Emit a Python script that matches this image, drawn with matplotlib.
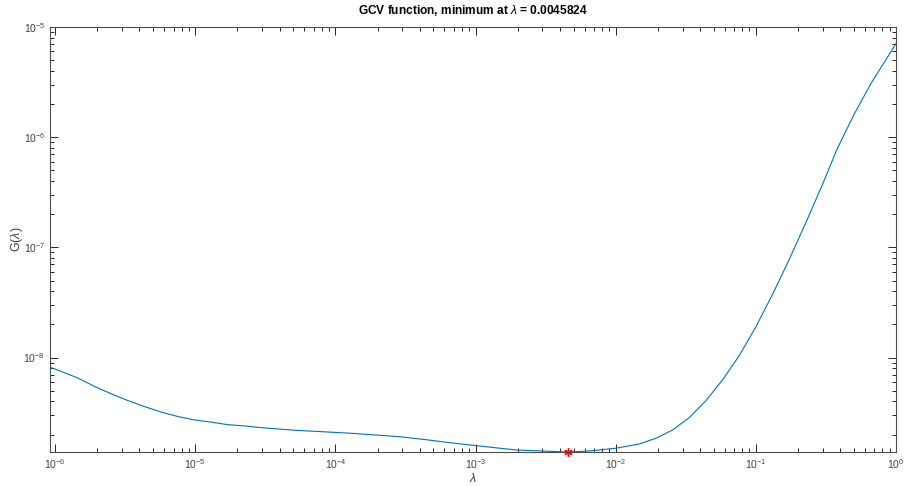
import numpy as np
import matplotlib
matplotlib.use("Agg")
import matplotlib.pyplot as plt
from matplotlib.ticker import FixedLocator, NullFormatter

# ======================
# DATA
# ======================
lam = [9.21e-7, 1.116e-6, 1.466e-6, 1.928e-6, 2.535e-6, 3.33e-6, 4.38e-6,
       5.76e-6, 7.56e-6, 9.94e-6, 1.307e-5, 1.717e-5, 2.258e-5, 2.97e-5,
       3.90e-5, 5.13e-5, 1.264e-4, 2.87e-4, 4.4e-4, 6.52e-4, 1.011e-3,
       1.949e-3, 3.363e-3, 4.5824e-3, 6.49e-3, 1.0e-2, 1.473e-2, 1.937e-2,
       2.543e-2, 3.345e-2, 4.40e-2, 5.78e-2, 7.60e-2, 0.0999, 0.1312,
       0.1726, 0.2269, 0.2979, 0.381, 0.501, 0.659, 1.0]
G = [8.17e-9, 7.45e-9, 6.49e-9, 5.44e-9, 4.67e-9, 4.06e-9, 3.58e-9,
     3.19e-9, 2.91e-9, 2.715e-9, 2.59e-9, 2.46e-9, 2.395e-9, 2.31e-9,
     2.25e-9, 2.19e-9, 2.06e-9, 1.915e-9, 1.80e-9, 1.69e-9, 1.587e-9,
     1.45e-9, 1.41e-9, 1.39e-9, 1.42e-9, 1.503e-9, 1.644e-9, 1.852e-9,
     2.20e-9, 2.85e-9, 4.06e-9, 6.26e-9, 1.038e-8, 1.896e-8, 3.72e-8,
     7.71e-8, 1.667e-7, 3.69e-7, 7.85e-7, 1.603e-6, 3.03e-6, 7.08e-6]
lam_min = 0.0045824
G_min = 1.39e-9

XLIM = (9.2e-7, 1.0)
YLIM = (1.39e-9, 1e-5)

plt.rcParams['font.family'] = ['Liberation Sans', 'DejaVu Sans']
plt.rcParams['mathtext.fontset'] = 'custom'
plt.rcParams['mathtext.rm'] = 'Liberation Sans'
plt.rcParams['mathtext.it'] = 'Liberation Sans:italic'

AX_COLOR = "#262626"


def log_ticks(lo, hi):
    """major and minor tick positions that fall inside [lo, hi]"""
    decades = np.arange(np.floor(np.log10(lo)), np.ceil(np.log10(hi)) + 1)
    major = [10.0 ** d for d in decades if lo <= 10.0 ** d <= hi]
    minor = [m * 10.0 ** d for d in decades for m in range(2, 10)
             if lo <= m * 10.0 ** d <= hi]
    return major, minor


fig = plt.figure(figsize=(9.06, 4.86), dpi=100)
ax = fig.add_axes([50 / 906, 1 - 452 / 486, 846 / 906, 425 / 486])

ax.loglog(lam, G, color="#0072BD", linewidth=0.8)
ax.plot(lam_min, G_min, marker=(6, 2, 0), color="red", markersize=6,
        markeredgewidth=1.0, linestyle="none", clip_on=False)

ax.set_xlim(*XLIM)
ax.set_ylim(*YLIM)

for side in ax.spines.values():
    side.set_color("#4d4d4d")
    side.set_linewidth(0.8)

xmaj, xmin = log_ticks(*XLIM)
ymaj, ymin = log_ticks(*YLIM)
ax.xaxis.set_major_locator(FixedLocator(xmaj))
ax.xaxis.set_minor_locator(FixedLocator(xmin))
ax.yaxis.set_major_locator(FixedLocator(ymaj))
ax.yaxis.set_minor_locator(FixedLocator(ymin))
ax.xaxis.set_minor_formatter(NullFormatter())
ax.yaxis.set_minor_formatter(NullFormatter())
ax.set_xticklabels([f"$10^{{{int(np.log10(v))}}}$" for v in xmaj])
ax.set_yticklabels([f"$10^{{{int(round(np.log10(v)))}}}$" for v in ymaj])

ax.tick_params(which="both", direction="in", top=True, right=True,
               colors=AX_COLOR, labelsize=7.5, width=0.7)
ax.tick_params(which="both", labelcolor="#404040")
ax.tick_params(which="major", length=5.5, pad=3.5)
ax.tick_params(which="minor", length=2.8)

ax.set_title("GCV function, minimum at $\\lambda$ = 0.0045824",
             fontsize=8.6, fontweight="bold", pad=9)
ax.set_xlabel("$\\lambda$", fontsize=9, color="#404040", labelpad=1)
ax.set_ylabel("G($\\lambda$)", fontsize=9, color="#404040", labelpad=-1)

fig.savefig("out.png", dpi=100)
